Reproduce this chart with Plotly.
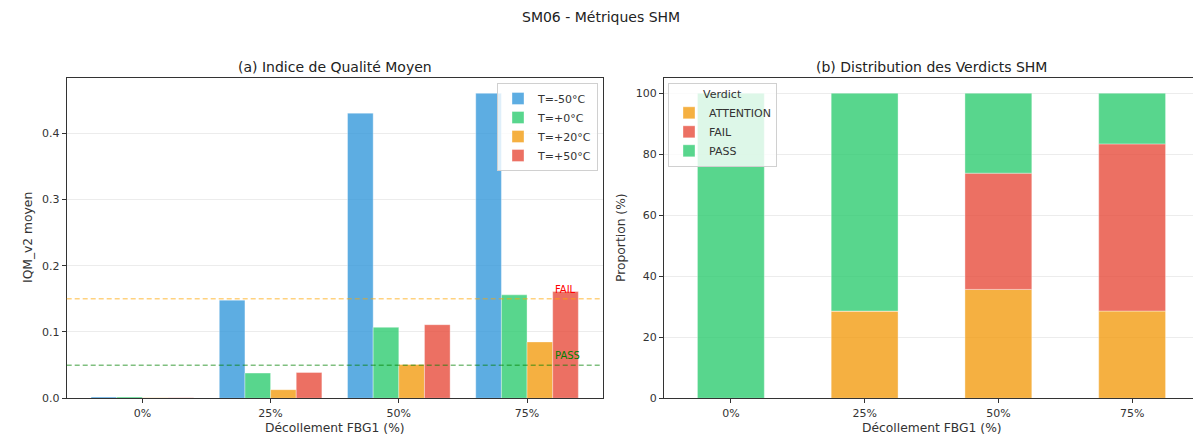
import plotly.graph_objects as go

# ---------------- data ----------------
categories = ["0%", "25%", "50%", "75%"]
temps = ["T=-50°C", "T=+0°C", "T=+20°C", "T=+50°C"]
iqm_m50 = [0.002, 0.148, 0.430, 0.460]
iqm_p0 = [0.002, 0.038, 0.107, 0.156]
iqm_p20 = [0.001, 0.013, 0.051, 0.085]
iqm_p50 = [0.001, 0.039, 0.111, 0.161]
iqm_series = [iqm_m50, iqm_p0, iqm_p20, iqm_p50]

verdicts = ["ATTENTION", "FAIL", "PASS"]
pct_attention = [0.0, 28.6, 35.7, 28.6]
pct_fail = [0.0, 0.0, 38.1, 54.8]
pct_pass = [100.0, 71.4, 26.2, 16.6]
verdict_series = [pct_attention, pct_fail, pct_pass]

threshold_fail = 0.15
threshold_pass = 0.05

# ---------------- styles ----------------
temp_colors = ["rgba(52,152,219,0.8)", "rgba(46,204,113,0.8)",
               "rgba(243,156,18,0.8)", "rgba(231,76,60,0.8)"]
verdict_colors = ["rgba(243,156,18,0.8)", "rgba(231,76,60,0.8)", "rgba(46,204,113,0.8)"]
FONT = "DejaVu Sans"
OFF = 8  # page body margin
W, H = 1201 - OFF, 437 - OFF

def px_x(p):
    return (p - OFF) / W

def px_y(p):
    return 1 - (p - OFF) / H

fig = go.Figure()

# left: grouped bars
for name, vals, col in zip(temps, iqm_series, temp_colors):
    fig.add_trace(go.Bar(
        x=categories, y=vals, name=name, marker=dict(color=col, line=dict(color="rgba(255,255,255,0.6)", width=0.6)),
        xaxis="x", yaxis="y", legend="legend",
    ))

# right: stacked bars
base = [0.0] * len(categories)
for name, vals, col in zip(verdicts, verdict_series, verdict_colors):
    fig.add_trace(go.Bar(
        x=categories, y=vals, base=list(base), name=name,
        width=0.5, offset=-0.25,
        marker=dict(color=col, line=dict(color="rgba(255,255,255,0.6)", width=0.6)),
        xaxis="x2", yaxis="y2", legend="legend2",
    ))
    base = [b + v for b, v in zip(base, vals)]

ydom = [px_y(398.3), px_y(78)]
axis_common = dict(showline=True, linecolor="#333", linewidth=1, mirror=True,
                   ticks="outside", ticklen=4, tickcolor="#333", automargin=False,
                   tickfont=dict(family=FONT, size=11, color="#333"))

fig.update_layout(
    width=W, height=H,
    margin=dict(l=0, r=0, t=0, b=0, autoexpand=False),
    paper_bgcolor="white", plot_bgcolor="white",
    font=dict(family=FONT, size=11, color="#333"),
    barmode="group", bargap=0.2, bargroupgap=0,
    xaxis=dict(domain=[px_x(66.7), px_x(602.7)], anchor="y", range=[-0.59, 3.59],
               showgrid=False, **axis_common),
    yaxis=dict(domain=ydom, anchor="x", range=[0, 0.483], dtick=0.1, tickformat=".1f",
               showgrid=True, gridcolor="#ececec", gridwidth=1, zeroline=False, **axis_common),
    xaxis2=dict(domain=[px_x(664), px_x(1199)], anchor="y2", range=[-0.5, 3.5],
                showgrid=False, **axis_common),
    yaxis2=dict(domain=ydom, anchor="x2", range=[0, 105], dtick=20,
                showgrid=True, gridcolor="#ececec", gridwidth=1, zeroline=False, **axis_common),
    legend=dict(x=px_x(598), y=px_y(83), xanchor="right", yanchor="top",
                bgcolor="rgba(255,255,255,0.8)", bordercolor="#d0d0d0", borderwidth=1,
                font=dict(family=FONT, size=11, color="#333"), tracegroupgap=0,
                traceorder="normal", itemwidth=30),
    legend2=dict(x=px_x(668), y=px_y(83), xanchor="left", yanchor="top",
                 bgcolor="rgba(255,255,255,0.8)", bordercolor="#d0d0d0", borderwidth=1,
                 title=dict(text="Verdict", side="top center",
                            font=dict(family=FONT, size=11, color="#333")),
                 font=dict(family=FONT, size=11, color="#333"), tracegroupgap=0,
                 traceorder="normal", itemwidth=30),
    showlegend=True,
)

# threshold lines
fig.add_shape(type="line", xref="x domain", yref="y", x0=0, x1=1, y0=threshold_fail, y1=threshold_fail,
              line=dict(color="rgba(255,165,0,0.5)", width=1.5, dash="5px,3px"))
fig.add_shape(type="line", xref="x domain", yref="y", x0=0, x1=1, y0=threshold_pass, y1=threshold_pass,
              line=dict(color="rgba(0,128,0,0.5)", width=1.5, dash="5px,3px"))
fig.add_annotation(x=3.2, y=threshold_fail + 0.003, xref="x", yref="y", text="FAIL", showarrow=False,
                   xanchor="left", yanchor="bottom", font=dict(family=FONT, size=10, color="red"))
fig.add_annotation(x=3.2, y=threshold_pass + 0.003, xref="x", yref="y", text="PASS", showarrow=False,
                   xanchor="left", yanchor="bottom", font=dict(family=FONT, size=10, color="green"))

# titles
fig.add_annotation(x=px_x(600.5), y=px_y(17), xref="paper", yref="paper", text="SM06 - Métriques SHM",
                   showarrow=False, xanchor="center", yanchor="middle",
                   font=dict(family=FONT, size=14, color="#222"))
fig.add_annotation(x=px_x(334.7), y=px_y(67), xref="paper", yref="paper", text="(a) Indice de Qualité Moyen",
                   showarrow=False, xanchor="center", yanchor="middle",
                   font=dict(family=FONT, size=14, color="#222"))
fig.add_annotation(x=px_x(931.5), y=px_y(67), xref="paper", yref="paper", text="(b) Distribution des Verdicts SHM",
                   showarrow=False, xanchor="center", yanchor="middle",
                   font=dict(family=FONT, size=14, color="#222"))
# axis titles
for cx in (334.7, 931.5):
    fig.add_annotation(x=px_x(cx), y=px_y(428), xref="paper", yref="paper", text="Décollement FBG1 (%)",
                       showarrow=False, xanchor="center", yanchor="middle",
                       font=dict(family=FONT, size=12.3, color="#333"))
fig.add_annotation(x=px_x(28), y=px_y(238), xref="paper", yref="paper", text="IQM_v2 moyen",
                   showarrow=False, textangle=-90, xanchor="center", yanchor="middle",
                   font=dict(family=FONT, size=12.3, color="#333"))
fig.add_annotation(x=px_x(621), y=px_y(238), xref="paper", yref="paper", text="Proportion (%)",
                   showarrow=False, textangle=-90, xanchor="center", yanchor="middle",
                   font=dict(family=FONT, size=12.3, color="#333"))

fig.write_html("out.html")
